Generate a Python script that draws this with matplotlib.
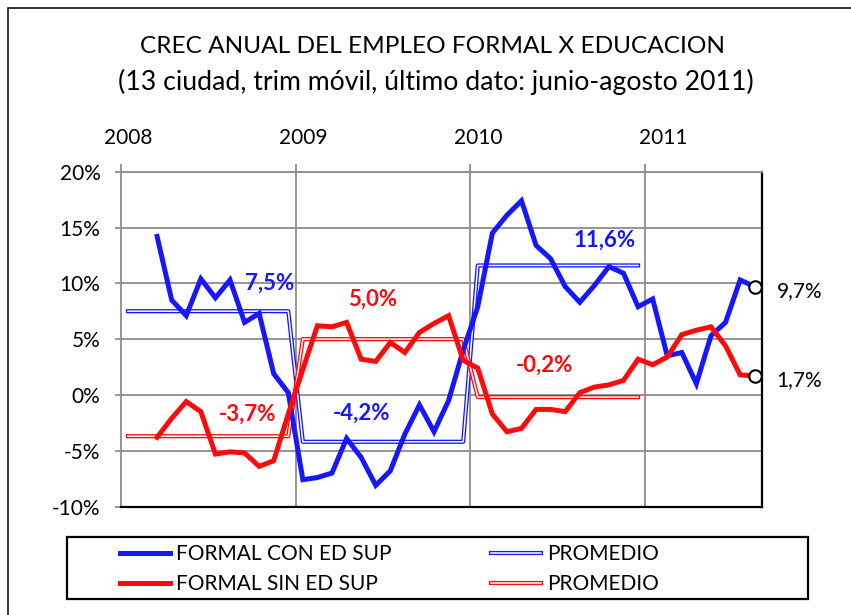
import matplotlib
matplotlib.use("Agg")
import matplotlib.pyplot as plt
import numpy as np
from matplotlib.lines import Line2D
from matplotlib.patches import Rectangle
from matplotlib.transforms import blended_transform_factory

plt.rcParams['font.family'] = ['Lato', 'DejaVu Sans']

# monthly rolling-quarter growth (%), from jan-mar 2008 (month index 2) to jun-ago 2011 (index 43)
first_month = 2
con_sup = [14.2, 8.5, 7.1, 10.4, 8.7, 10.3, 6.5, 7.3, 1.9, 0.2,
           -7.6, -7.4, -7.0, -3.9, -5.6, -8.1, -6.8, -3.5, -0.9, -3.3, -0.5, 4.0,
           7.9, 14.5, 16.1, 17.4, 13.4, 12.2, 9.7, 8.3, 9.8, 11.5, 10.9, 7.9,
           8.6, 3.5, 3.8, 1.0, 5.3, 6.5, 10.3, 9.7]
sin_sup = [-3.8, -2.1, -0.6, -1.5, -5.3, -5.1, -5.2, -6.4, -5.9, -1.7,
           2.3, 6.2, 6.1, 6.5, 3.2, 3.0, 4.7, 3.8, 5.6, 6.4, 7.1, 3.1,
           2.4, -1.7, -3.3, -3.0, -1.3, -1.3, -1.5, 0.2, 0.7, 0.9, 1.3, 3.2,
           2.7, 3.4, 5.4, 5.8, 6.1, 4.4, 1.8, 1.7]

# yearly averages
years = [2008, 2009, 2010, 2011]
prom_con = [7.5, -4.2, 11.6]
prom_sin = [-3.7, 5.0, -0.2]

BLUE = '#1717ff'
RED = '#ff0a0a'
GRID = '#8c8c8c'

x = np.arange(len(con_sup)) + first_month + 0.5
xp = np.arange(12 * len(prom_con)) + 0.5
yp_con = np.repeat(prom_con, 12)
yp_sin = np.repeat(prom_sin, 12)

fig = plt.figure(figsize=(8.51, 6.15), dpi=100)
ax = fig.add_axes([0.1418, 0.1764, 0.7536, 0.5444])

# promedio as double lines (colored outline, white core)
ax.plot(xp, yp_con, color=BLUE, lw=3.0, zorder=3)
ax.plot(xp, yp_con, color='white', lw=1.1, zorder=3)
ax.plot(xp, yp_sin, color=RED, lw=3.0, zorder=3)
ax.plot(xp, yp_sin, color='white', lw=1.1, zorder=3)

ax.plot(x, con_sup, color=BLUE, lw=3.6, zorder=4, solid_joinstyle='miter')
ax.plot(x, sin_sup, color=RED, lw=3.6, zorder=4, solid_joinstyle='miter')
ax.plot(x[-1], con_sup[-1], 'o', ms=9, mfc='white', mec='black', mew=1.5, zorder=5)
ax.plot(x[-1], sin_sup[-1], 'o', ms=9, mfc='white', mec='black', mew=1.5, zorder=5)

ax.set_xlim(0, 44)
ax.set_ylim(-10, 20)
ax.set_yticks(np.arange(-10, 21, 5))
ax.set_yticklabels([f'{v}%' for v in range(-10, 21, 5)], fontsize=15)
ax.grid(axis='y', color=GRID, lw=1.3)
for k in range(1, 3 + 1):
    ax.axvline(12 * k, color=GRID, lw=1.3, zorder=1)

ax.xaxis.tick_top()
ax.set_xticks([12 * k for k in range(len(years))])
ax.set_xticklabels([])
ax.tick_params(axis='x', direction='out', length=6, color=GRID, width=1.3)
ax.tick_params(axis='y', direction='out', length=4.5, color=GRID, width=1.3, pad=10)
trans = blended_transform_factory(ax.transData, ax.transAxes)
for k, yr in enumerate(years):
    ax.text(12 * k + 0.5 + (0.7 if yr == 2011 else 0), 1.10, str(yr), transform=trans,
            ha='center', va='center', fontsize=15)

ax.spines['left'].set_color(GRID)
ax.spines['left'].set_linewidth(1.3)
ax.spines['top'].set_color(GRID)
ax.spines['top'].set_linewidth(1.3)
ax.spines['right'].set_linewidth(1.6)
ax.spines['bottom'].set_linewidth(1.6)

# average labels
lab = dict(fontsize=16, fontweight='bold', ha='center', va='center')
ax.text(10.2, 10.0, '7,5%', color=BLUE, **lab)
ax.text(8.7, -1.7, '-3,7%', color=RED, **lab)
ax.text(17.3, 8.6, '5,0%', color=RED, **lab)
ax.text(16.5, -1.6, '-4,2%', color=BLUE, **lab)
ax.text(33.2, 13.9, '11,6%', color=BLUE, **lab)
ax.text(29.1, 2.7, '-0,2%', color=RED, **lab)

# last values
ax.text(45.0, con_sup[-1] - 0.4, '9,7%', fontsize=15, ha='left', va='center', clip_on=False)
ax.text(45.0, sin_sup[-1] - 0.4, '1,7%', fontsize=15, ha='left', va='center', clip_on=False)

fig.text(0.508, 0.924, 'CREC ANUAL DEL EMPLEO FORMAL X EDUCACION', ha='center', va='center', fontsize=17.6)
fig.text(0.512, 0.867, '(13 ciudad, trim móvil, último dato: junio-agosto 2011)',
         ha='center', va='center', fontsize=19.2)

# legend
h_con = Line2D([], [], color=BLUE, lw=3.6)
h_sin = Line2D([], [], color=RED, lw=3.6)
h_pc = (Line2D([], [], color=BLUE, lw=3.0), Line2D([], [], color='white', lw=1.1))
h_ps = (Line2D([], [], color=RED, lw=3.0), Line2D([], [], color='white', lw=1.1))
fig.legend([h_con, h_sin, h_pc, h_ps],
           ['FORMAL CON ED SUP', 'FORMAL SIN ED SUP', 'PROMEDIO', 'PROMEDIO'],
           ncol=2, frameon=False, loc='upper left', bbox_to_anchor=(0.141, 0.1155),
           fontsize=15, handlelength=2.4, handletextpad=0.3, columnspacing=4.76,
           labelspacing=0.5, borderaxespad=0, borderpad=0)
fig.add_artist(Rectangle((67.3 / 851, 1 - 599 / 615), (808 - 67.3) / 851, 62 / 615,
                         transform=fig.transFigure, fill=False, ec='black', lw=1.6))
# chart area border
fig.add_artist(Rectangle((7.7 / 851, -0.05), 1.1, 1.05 - 8 / 615,
                         transform=fig.transFigure, fill=False, ec='black', lw=1.1))

fig.savefig('out.png', dpi=100)
